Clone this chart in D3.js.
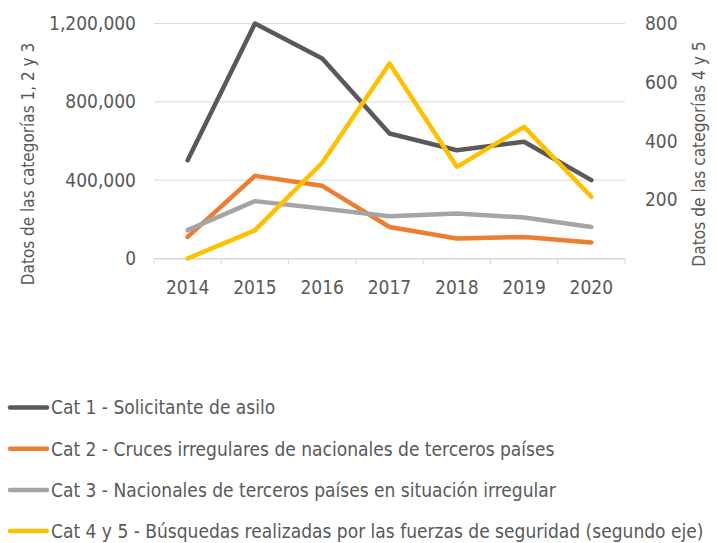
<!DOCTYPE html>
<html lang="es">
<head>
<meta charset="UTF-8">
<title>Categorías 2014-2020</title>
<style>
  body { margin: 0; background: #fff; }
  text { font-family: "DejaVu Sans Condensed", "Liberation Sans Narrow", sans-serif; fill: #595959; }
</style>
</head>
<body>
<script src="https://cdn.jsdelivr.net/npm/d3@7"></script>
<script>
const years = ["2014", "2015", "2016", "2017", "2018", "2019", "2020"];
const cat1 = [502000, 1200000, 1021000, 638000, 553000, 596000, 400000];
const cat2 = [110000, 422000, 371000, 161000, 102000, 110000, 82000];
const cat3 = [145000, 293000, 255000, 216000, 230000, 209000, 161000];
const cat45 = [0, 96, 326, 664, 312, 448, 210];
const leftTicks = [0, 400000, 800000, 1200000];
const rightTicks = [200, 400, 600, 800];
const seriesNames = [
  "Cat 1 - Solicitante de asilo",
  "Cat 2 - Cruces irregulares de nacionales de terceros países",
  "Cat 3 - Nacionales de terceros países en situación irregular",
  "Cat 4 y 5 - Búsquedas realizadas por las fuerzas de seguridad (segundo eje)"
];
const colors = ["#595959", "#ED7D31", "#A5A5A5", "#FFC000"];

const width = 717, height = 543;
const plotLeft = 154, plotRight = 625, plotTop = 23.5, plotBottom = 258.5;

const svg = d3.select("body").append("svg")
    .attr("width", width)
    .attr("height", height);

const x = d3.scaleBand().domain(years).range([plotLeft, plotRight]);
const yL = d3.scaleLinear().domain([0, 1200000]).range([plotBottom, plotTop]);
const yR = d3.scaleLinear().domain([0, 800]).range([plotBottom, plotTop]);

// gridlines
svg.append("g").selectAll("line")
  .data(leftTicks).join("line")
    .attr("x1", plotLeft).attr("x2", plotRight)
    .attr("y1", d => yL(d)).attr("y2", d => yL(d))
    .attr("stroke", "#d9d9d9").attr("stroke-width", 1);

// x axis
const xAxis = svg.append("g")
    .attr("transform", `translate(0,${plotBottom})`)
    .call(d3.axisBottom(x).tickSize(0));
xAxis.select(".domain").attr("stroke", "#d9d9d9");
xAxis.selectAll("text").attr("font-size", 19).attr("fill", "#595959")
    .attr("y", 28.5).attr("dy", "0.36em");
// category separator ticks
svg.append("g").selectAll("line")
  .data(years.concat(["end"])).join("line")
    .attr("x1", (d, i) => plotLeft + i * x.step()).attr("x2", (d, i) => plotLeft + i * x.step())
    .attr("y1", plotBottom).attr("y2", plotBottom + 6)
    .attr("stroke", "#d9d9d9");

// left axis
const yAxisL = svg.append("g")
    .attr("transform", `translate(${plotLeft},0)`)
    .call(d3.axisLeft(yL).tickValues(leftTicks).tickSize(0).tickPadding(18).tickFormat(d3.format(",")));
yAxisL.select(".domain").remove();
yAxisL.selectAll("text").attr("font-size", 19).attr("fill", "#595959");

// right axis
const yAxisR = svg.append("g")
    .attr("transform", `translate(${plotRight},0)`)
    .call(d3.axisRight(yR).tickValues(rightTicks).tickSize(0).tickPadding(20));
yAxisR.select(".domain").remove();
yAxisR.selectAll("text").attr("font-size", 19).attr("fill", "#595959");

// axis titles
svg.append("text")
    .attr("transform", "translate(34,164) rotate(-90)")
    .attr("text-anchor", "middle")
    .attr("font-size", 17)
    .text("Datos de las categorías 1, 2 y 3");
svg.append("text")
    .attr("transform", "translate(705,154) rotate(-90)")
    .attr("text-anchor", "middle")
    .attr("font-size", 17.2)
    .text("Datos de las categorías 4 y 5");

// lines
const lineL = d3.line().x((d, i) => x(years[i]) + x.bandwidth() / 2).y(d => yL(d));
const lineR = d3.line().x((d, i) => x(years[i]) + x.bandwidth() / 2).y(d => yR(d));

[cat1, cat2, cat3].forEach((s, k) => {
  svg.append("path").datum(s)
      .attr("d", lineL)
      .attr("fill", "none")
      .attr("stroke", colors[k])
      .attr("stroke-width", 4.5)
      .attr("stroke-linejoin", "round")
      .attr("stroke-linecap", "round");
});
svg.append("path").datum(cat45)
    .attr("d", lineR)
    .attr("fill", "none")
    .attr("stroke", colors[3])
    .attr("stroke-width", 4.5)
    .attr("stroke-linejoin", "round")
    .attr("stroke-linecap", "round");

// legend
const legend = svg.append("g").selectAll("g")
  .data(seriesNames).join("g")
    .attr("transform", (d, i) => `translate(0,${407.5 + i * 41.2})`);
legend.append("line")
    .attr("x1", 10).attr("x2", 47)
    .attr("stroke", (d, i) => colors[i])
    .attr("stroke-width", 4.5)
    .attr("stroke-linecap", "round");
legend.append("text")
    .attr("x", 51).attr("y", 0).attr("dy", "0.36em")
    .attr("font-size", 19)
    .text(d => d);
</script>
</body>
</html>
